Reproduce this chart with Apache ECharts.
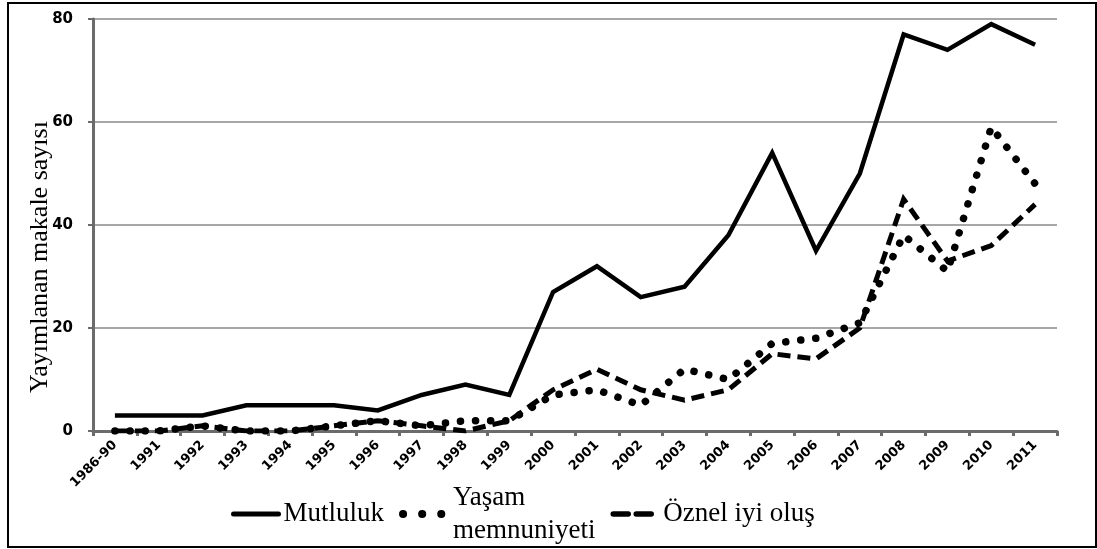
<!DOCTYPE html>
<html>
<head>
<meta charset="utf-8">
<script src="https://cdn.jsdelivr.net/npm/echarts@6/dist/echarts.min.js"></script>
<style>
html,body{margin:0;padding:0;background:#fff;}
#frame{position:absolute;left:7px;top:2px;width:1086px;height:542px;border:2px solid #000;box-sizing:content-box;}
#chart{position:absolute;left:0;top:0;width:1097px;height:549px;}
</style>
</head>
<body>
<div id="frame"></div>
<div id="chart"></div>
<script>
const categories = ['1986-90','1991','1992','1993','1994','1995','1996','1997','1998','1999','2000','2001','2002','2003','2004','2005','2006','2007','2008','2009','2010','2011'];
const mutluluk = [3,3,3,5,5,5,4,7,9,7,27,32,26,28,38,54,35,50,77,74,79,75];
const yasam = [0,0,1,0,0,1,2,1,2,2,7,8,5,12,10,17,18,21,38,31,59,48];
const oznel = [0,0,1,0,0,1,2,1,0,2,8,12,8,6,8,15,14,20,45,33,36,44];
const yTicks = [0,20,40,60,80];

const chart = echarts.init(document.getElementById('chart'));
chart.setOption({
  animation: false,
  backgroundColor: 'transparent',
  grid: {left: 93, right: 40, top: 19, bottom: 118},
  legend: {
    left: 231, top: 481, padding: 0,
    itemWidth: 45, itemHeight: 14, itemGap: 15,
    itemStyle: {opacity: 0},
    textStyle: {fontFamily: 'Liberation Serif', fontSize: 27, lineHeight: 33, color: '#000'},
    formatter: function (n) { return n === 'Yaşam memnuniyeti' ? 'Yaşam\nmemnuniyeti' : n; },
    data: [
      {name: 'Mutluluk', lineStyle: {width: 5, cap: 'round', type: 'solid'}},
      {name: 'Yaşam memnuniyeti', lineStyle: {width: 8, cap: 'round', type: [0.1, 19]}},
      {name: 'Öznel iyi oluş', lineStyle: {width: 5.5, cap: 'round', type: [15, 8]}}
    ]
  },
  graphic: [{
    type: 'text',
    x: 40, y: 257, rotation: Math.PI/2,
    style: {text: 'Yayımlanan makale sayısı', font: '26px "Liberation Serif"', fill: '#000', align: 'center', verticalAlign: 'middle'}
  }],
  xAxis: {
    type: 'category', data: categories, boundaryGap: true,
    axisLine: {lineStyle: {color: '#6b6b6b', width: 3}},
    axisTick: {show: true, length: 5, lineStyle: {color: '#6b6b6b', width: 3}},
    axisLabel: {rotate: 45, fontFamily: 'DejaVu Sans', fontWeight: 'bold', fontSize: 13, color: '#000', margin: 12, interval: 0},
    splitLine: {show: false}
  },
  yAxis: {
    type: 'value', min: 0, max: 80, interval: 20,
    axisLine: {show: true, lineStyle: {color: '#6b6b6b', width: 3}},
    axisTick: {show: true, length: 5, lineStyle: {color: '#6b6b6b', width: 2}},
    axisLabel: {fontFamily: 'DejaVu Sans', fontWeight: 'bold', fontSize: 15, color: '#000', margin: 20,
      formatter: function (v) { return yTicks.indexOf(v) >= 0 ? String(v) : ''; }},
    splitLine: {show: true, lineStyle: {color: '#8a8a8a', width: 1.5}}
  },
  series: [
    {name: 'Mutluluk', type: 'line', data: mutluluk, symbol: 'none', z: 3,
     lineStyle: {color: '#000', width: 4.5, join: 'miter'}, itemStyle: {color: '#000'}},
    {name: 'Yaşam memnuniyeti', type: 'line', data: yasam, symbol: 'none', z: 2,
     lineStyle: {color: '#000', width: 7.5, type: [0.1, 15], cap: 'round', join: 'round'}, itemStyle: {color: '#000'}},
    {name: 'Öznel iyi oluş', type: 'line', data: oznel, symbol: 'none', z: 2,
     lineStyle: {color: '#000', width: 5, type: [13, 7], join: 'miter'}, itemStyle: {color: '#000'}}
  ]
});
</script>
</body>
</html>
